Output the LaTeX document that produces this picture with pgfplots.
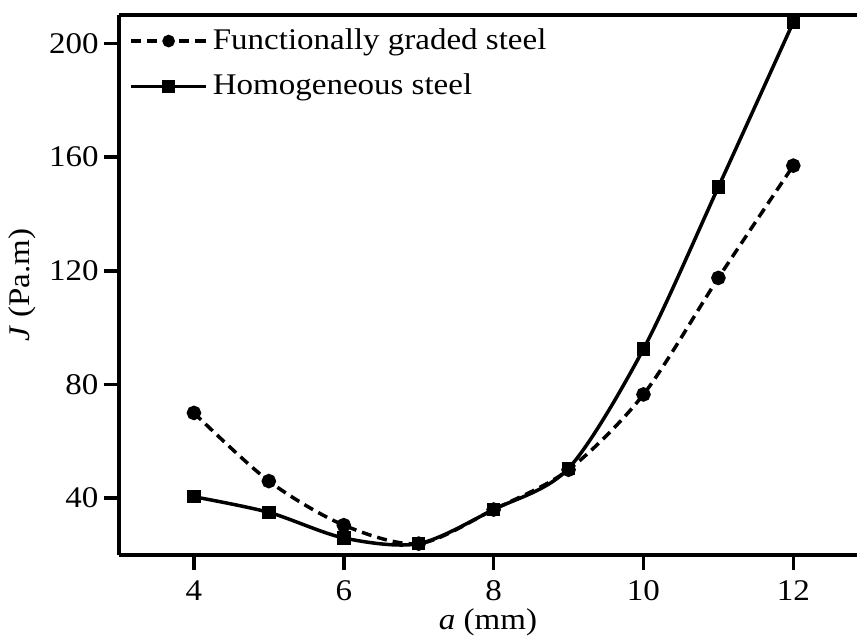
\documentclass[border=0pt]{standalone}
\usepackage{fontspec}
\setmainfont{Liberation Serif}[FakeStretch=1.1]
\usepackage{pgfplots}
\pgfplotsset{compat=1.18}

\pgfplotstableread{
a J
4 70
5 46
6 30.5
7 24
8 36
9 50
10 76.5
11 117.5
12 157
}\graded

\pgfplotstableread{
a J
4 40.5
5 35
6 26
7 24
8 36
9 50.5
10 92.5
11 149.5
12 207.5
}\homog

\begin{document}
\fontsize{12}{14}\selectfont
\begin{tikzpicture}
\begin{axis}[
    scale only axis,
    width=295.2pt, height=216pt,
    xmin=3, xmax=12.85,
    ymin=20, ymax=210,
    xtick={4,6,8,10,12},
    ytick={40,80,120,160,200},
    axis x line*=bottom,
    axis y line*=left,
    axis line style={line width=1.6pt, -},
    tick style={line width=1.4pt, black},
    tick align=outside,
    major tick length=6pt,
    /pgf/number format/assume math mode=true,
    ticklabel style={font=\fontsize{12}{14}\selectfont},
    xticklabel style={yshift=0pt},
    yticklabel style={xshift=2pt},
    xlabel={\textit{a} (mm)},
    ylabel={\textit{J} (Pa.m)},
    xlabel style={yshift=5pt, font=\fontsize{12}{14}\selectfont},
    ylabel style={yshift=-3pt, font=\fontsize{12}{14}\selectfont},
    clip=false,
    legend cell align=left,
    legend style={draw=none, fill=none, at={(rel axis cs:0.01,0.99)}, anchor=north west,
        font=\fontsize{12}{14}\selectfont, row sep=4pt, inner sep=1pt},
    legend image code/.code={\draw[mark repeat=2, mark phase=2, mark size=1.8pt] plot coordinates {(0pt,0pt) (15pt,0pt) (30pt,0pt)};},
]
\addplot[black, line width=1.4pt, dash pattern=on 4pt off 2.4pt, smooth, tension=0.5,
    mark=*, mark size=2.2pt, mark options={solid}] table[x=a, y=J] {\graded};
\addlegendentry{Functionally graded steel}
\addplot[black, line width=1.4pt, smooth, tension=0.5,
    mark=square*, mark size=2pt, mark options={solid}] table[x=a, y=J] {\homog};
\addlegendentry{Homogeneous steel}
\draw[line width=1.6pt] (rel axis cs:0,1) -- (rel axis cs:1,1);
\end{axis}
\pgfresetboundingbox
\path (-47.6pt,-33.6pt) rectangle (295.2pt,222pt);
\end{tikzpicture}
\end{document}
